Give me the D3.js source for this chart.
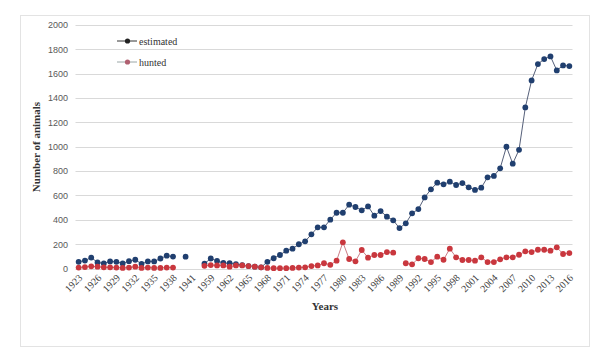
<!DOCTYPE html>
<html>
<head>
<meta charset="utf-8">
<script src="https://cdn.jsdelivr.net/npm/d3@7"></script>
<style>
  html, body { margin: 0; padding: 0; background: #fff; }
  svg { display: block; }
</style>
</head>
<body>
<svg id="chart" width="605" height="357"></svg>
<script>
// ---- data ----
const years = [
  1923,1924,1925,1926,1927,1928,1929,1930,1931,1932,1933,1934,1935,1936,1937,1938,1939,1940,1941,
  1957,1958,
  1959,1960,1961,1962,1963,1964,1965,1966,1967,1968,
  1969,1970,1971,1972,1973,1974,1975,1976,1977,1978,
  1979,1980,1981,1982,1983,1984,1985,1986,1987,1988,
  1989,1990,1991,1992,1993,1994,1995,1996,1997,1998,
  1999,2000,2001,2002,2003,2004,2005,2006,2007,2008,
  2009,2010,2011,2012,2013,2014,2015,2016
];
const estimated = [
  55,65,90,50,42,58,55,42,60,72,38,58,58,82,105,98,null,97,null,
  null,40,
  82,62,45,43,35,28,20,15,10,55,
  84,111,146,163,199,223,281,338,338,401,
  458,458,524,505,478,510,434,472,426,396,
  332,371,453,488,584,650,705,691,713,686,
  702,667,645,664,749,760,823,1000,861,975,
  1323,1545,1679,1720,1742,1627,1668,1663
];
const hunted = [
  8,12,18,15,10,10,8,5,8,15,5,8,5,5,8,8,null,null,null,
  null,22,
  28,25,25,15,25,25,20,15,10,5,
  3,3,3,5,8,10,20,25,43,30,
  64,215,78,59,152,89,111,111,135,130,
  null,43,34,84,78,53,97,72,163,92,
  70,70,64,92,53,53,75,92,92,113,
  141,135,154,154,146,174,119,127
];
const yTicks = [0,200,400,600,800,1000,1200,1400,1600,1800,2000];
const seriesNames = ["estimated", "hunted"];

// ---- styles ----
const dotColors = ["#203f6f", "#c9373e"];
const lineColors = ["#56607a", "#cc7c86"];

const svg = d3.select("#chart");

// outer frame
svg.append("rect").attr("x", 20.5).attr("y", 15.5).attr("width", 569).attr("height", 331)
  .attr("fill", "#fff").attr("stroke", "#e3e3e3").attr("stroke-width", 1);

const x = d3.scalePoint().domain(years).range([75.5, 572.5]).padding(0.5);
const y = d3.scaleLinear().domain([0, 2000]).range([268.5, 25]);

// gridlines
svg.append("g").selectAll("line").data(yTicks.slice(1)).join("line")
  .attr("x1", 75.5).attr("x2", 572.5)
  .attr("y1", d => Math.round(y(d)) + 0.5).attr("y2", d => Math.round(y(d)) + 0.5)
  .attr("stroke", "#d9d9d9").attr("stroke-width", 1);

// x axis baseline
svg.append("line").attr("x1", 75.5).attr("x2", 572.5)
  .attr("y1", Math.round(y(0)) + 0.5).attr("y2", Math.round(y(0)) + 0.5)
  .attr("stroke", "#d9d9d9");

// y axis labels
const yAxis = d3.axisLeft(y).tickValues(yTicks).tickFormat(d3.format("d")).tickSize(0).tickPadding(0);
const yg = svg.append("g").attr("transform", "translate(68,0)").call(yAxis);
yg.select(".domain").remove();
yg.selectAll("text").attr("font-family", "Liberation Sans, Arial, sans-serif")
  .attr("font-size", 9).attr("fill", "#595959");

// x axis labels (every 3rd category)
const xAxis = d3.axisBottom(x).tickValues(years.filter((d, i) => i % 3 === 0)).tickSize(0).tickPadding(0);
const xg = svg.append("g").attr("transform", "translate(0," + y(0) + ")").call(xAxis);
xg.select(".domain").remove();
xg.selectAll("text")
  .attr("font-family", "Liberation Serif, Times New Roman, serif")
  .attr("font-size", 10).attr("fill", "#404040")
  .attr("text-anchor", "end")
  .attr("dy", null).attr("y", 0)
  .attr("transform", "translate(4,10) rotate(-45)");

// series
const seriesData = [estimated, hunted];
seriesData.forEach((vals, si) => {
  const pts = years.map((yr, i) => ({ yr, v: vals[i] }));
  const line = d3.line().defined(d => d.v != null).x(d => x(d.yr)).y(d => y(d.v));
  svg.append("path").datum(pts).attr("d", line)
    .attr("fill", "none").attr("stroke", lineColors[si]).attr("stroke-width", 1);
  svg.append("g").selectAll("circle").data(pts.filter(d => d.v != null)).join("circle")
    .attr("cx", d => x(d.yr)).attr("cy", d => y(d.v)).attr("r", 2.9)
    .attr("fill", dotColors[si]);
});

// legend
const legend = svg.append("g");
seriesNames.forEach((name, i) => {
  const ly = 41 + i * 21;
  legend.append("line").attr("x1", 117).attr("x2", 137).attr("y1", ly).attr("y2", ly)
    .attr("stroke", i === 0 ? "#333" : "#9aa6a6").attr("stroke-width", 1);
  legend.append("circle").attr("cx", 127.5).attr("cy", ly).attr("r", 2.6).attr("fill", i === 0 ? "#222" : "#b06070");
  legend.append("text").attr("x", 139).attr("y", ly + 3.5).text(name)
    .attr("font-family", "Liberation Serif, Times New Roman, serif")
    .attr("font-size", 10).attr("fill", "#333");
});

// axis titles
svg.append("text").attr("x", 325).attr("y", 310).attr("text-anchor", "middle")
  .attr("font-family", "Liberation Serif, Times New Roman, serif").attr("font-weight", "bold")
  .attr("font-size", 11).attr("fill", "#333").text("Years");
svg.append("text").attr("transform", "translate(40,147) rotate(-90)").attr("text-anchor", "middle")
  .attr("font-family", "Liberation Serif, Times New Roman, serif").attr("font-weight", "bold")
  .attr("font-size", 11).attr("fill", "#333").text("Number of animals");
</script>
</body>
</html>
